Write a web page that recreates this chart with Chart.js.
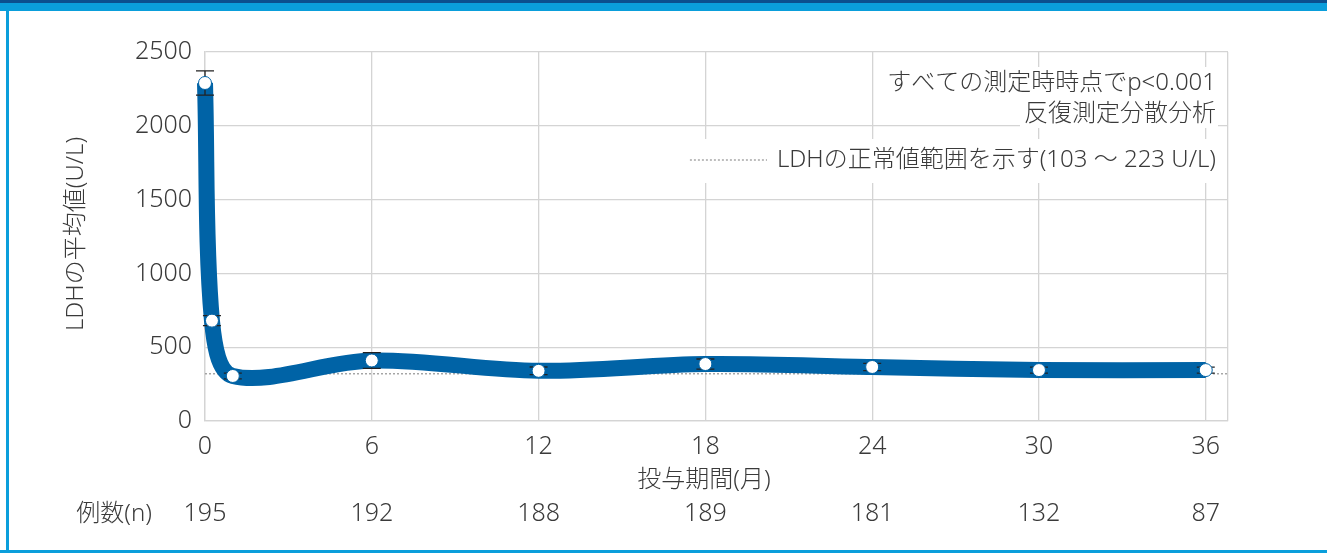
<!DOCTYPE html>
<html lang="ja">
<head>
<meta charset="utf-8">
<script src="https://cdn.jsdelivr.net/npm/chart.js@4.4.1/dist/chart.umd.min.js"></script>
<style>
  html, body { margin: 0; padding: 0; background: #fff; }
  #wrap { position: relative; width: 1327px; height: 553px; }
</style>
</head>
<body>
<div id="wrap"><canvas id="ldhChart" width="1327" height="553"></canvas></div>
<script>
// data
const months = [0, 0.25, 1, 6, 12, 18, 24, 30, 36];
const ldhMean = [2290, 680, 305, 410, 340, 386, 366, 345, 345];
const ldhErr = [82, 34, 20, 53, 26, 34, 25, 20, 20];
const xTicks = [0, 6, 12, 18, 24, 30, 36];
const nCounts = ["195", "192", "188", "189", "181", "132", "87"];
const refLevel = 320;
const xMax = 36.8;

const BLUE = "#0063a6";
const TEXT = "#3a3a3a";
const GRID = "#d4d4d4";
const FONT = "'Noto Sans', 'Noto Sans CJK JP', sans-serif";

const errorBars = {
  id: "errorBars",
  afterDatasetDraw(chart, args) {
    if (args.index !== 1) return;
    const ctx = chart.ctx;
    const x = chart.scales.x, y = chart.scales.y;
    ctx.save();
    ctx.strokeStyle = "#222";
    ctx.lineWidth = 1.3;
    months.forEach((m, i) => {
      const px = x.getPixelForValue(m);
      const top = y.getPixelForValue(ldhMean[i] + ldhErr[i]);
      const bot = y.getPixelForValue(ldhMean[i] - ldhErr[i]);
      ctx.beginPath();
      ctx.moveTo(px, top); ctx.lineTo(px, bot);
      ctx.moveTo(px - 9, top); ctx.lineTo(px + 9, top);
      ctx.moveTo(px - 9, bot); ctx.lineTo(px + 9, bot);
      ctx.stroke();
    });
    ctx.restore();
  }
};

const notes = {
  id: "notes",
  beforeDatasetsDraw(chart) {
    const ctx = chart.ctx;
    const note3 = "LDHの正常値範囲を示す(103 ～ 223 U/L)";
    ctx.save();
    ctx.font = "300 24px " + FONT;
    const start3 = 1216 - ctx.measureText(note3).width;
    // white boxes behind the note text
    ctx.fillStyle = "#fff";
    ctx.fillRect(880, 67, 338, 32);
    ctx.fillRect(1020, 99, 198, 29);
    ctx.fillRect(start3 - 95, 139, 1218 - start3 + 95, 44);
    ctx.fillStyle = TEXT;
    ctx.textAlign = "right";
    ctx.textBaseline = "middle";
    ctx.fillText("すべての測定時時点でp<0.001", 1216, 83);
    ctx.fillText("反復測定分散分析", 1216, 114);
    ctx.fillText(note3, 1216, 160);
    ctx.strokeStyle = "#9a9a9a";
    ctx.lineWidth = 1.3;
    ctx.setLineDash([2, 2]);
    ctx.beginPath();
    ctx.moveTo(start3 - 87, 160); ctx.lineTo(start3 - 10, 160);
    ctx.stroke();
    ctx.restore();
  },
  afterDraw(chart) {
    const ctx = chart.ctx;
    const x = chart.scales.x;
    ctx.save();
    ctx.fillStyle = TEXT;
    ctx.font = "300 24px " + FONT;
    ctx.textBaseline = "middle";
    ctx.textAlign = "center";
    ctx.fillText("投与期間(月)", 704, 480);
    ctx.textAlign = "right";
    ctx.fillText("例数(n)", 152, 514);
    ctx.textAlign = "center";
    ctx.font = "300 25px " + FONT;
    xTicks.forEach((v, i) => ctx.fillText(nCounts[i], x.getPixelForValue(v), 514));
    ctx.font = "300 24px " + FONT;
    ctx.translate(76, 234);
    ctx.rotate(-Math.PI / 2);
    ctx.fillText("LDHの平均値(U/L)", 0, 0);
    ctx.restore();

    // frame
    ctx.save();
    ctx.fillStyle = "#0b4f8e";
    ctx.fillRect(0, 0, 1327, 3);
    ctx.fillStyle = "#0a9edb";
    ctx.fillRect(0, 3, 1327, 8);
    ctx.fillRect(6, 11, 3, 542);
    ctx.fillRect(0, 550, 1327, 3);
    ctx.restore();
  }
};

new Chart(document.getElementById("ldhChart").getContext("2d"), {
  type: "line",
  data: {
    datasets: [
      {
        label: "points",
        data: months.map((m, i) => ({ x: m, y: ldhMean[i] })),
        showLine: false,
        pointRadius: 6.5,
        pointBackgroundColor: "#fff",
        pointBorderColor: BLUE,
        pointBorderWidth: 1,
        clip: false,
      },
      {
        label: "LDH",
        data: months.map((m, i) => ({ x: m, y: ldhMean[i] })),
        borderColor: BLUE,
        borderWidth: 16,
        tension: 0.33,
        pointRadius: 0,
        clip: false,
      },
      {
        label: "ref",
        data: [{ x: 0, y: refLevel }, { x: xMax, y: refLevel }],
        borderColor: "#9a9a9a",
        borderWidth: 1.3,
        borderDash: [2, 2],
        pointRadius: 0,
      },
    ],
  },
  options: {
    responsive: false,
    animation: false,
    layout: { padding: { top: 52, right: 99, left: 0, bottom: 0 } },
    plugins: {
      legend: { display: false },
      tooltip: { enabled: false },
    },
    scales: {
      x: {
        type: "linear",
        min: 0,
        max: xMax,
        afterBuildTicks: (s) => {
          s.ticks = xTicks.concat([xMax]).map((v) => ({ value: v }));
        },
        afterFit: (s) => { s.height = 132; },
        grid: { color: GRID, drawTicks: false, lineWidth: 1.3 },
        border: { color: GRID, width: 1.3 },
        ticks: {
          autoSkip: false,
          maxRotation: 0,
          padding: 11,
          color: TEXT,
          font: { family: FONT, size: 25, weight: "300" },
          callback: (v) => (xTicks.includes(v) ? String(v) : ""),
        },
      },
      y: {
        min: 0,
        max: 2500,
        afterFit: (s) => { s.width = 205; },
        grid: { color: GRID, drawTicks: false, lineWidth: 1.3 },
        border: { color: GRID, width: 1.3 },
        ticks: {
          stepSize: 500,
          padding: 13,
          color: TEXT,
          font: { family: FONT, size: 25, weight: "300" },
          callback: (v) => String(v),
        },
      },
    },
  },
  plugins: [errorBars, notes],
});
</script>
</body>
</html>
